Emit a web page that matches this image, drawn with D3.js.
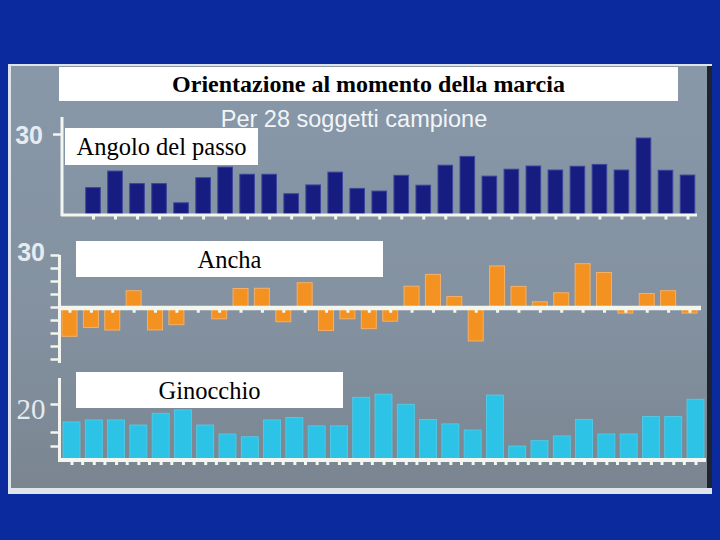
<!DOCTYPE html>
<html>
<head>
<meta charset="utf-8">
<script src="https://cdn.jsdelivr.net/npm/d3@7/dist/d3.min.js"></script>
<style>
  html, body { margin: 0; padding: 0; background: #0b2a9e; }
  svg { display: block; }
</style>
</head>
<body>
<svg id="chart" width="720" height="540"></svg>
<script>
// ---- Data ----
const titleText = "Orientazione al momento della marcia";
const subtitleText = "Per 28 soggetti campione";
const panelNames = ["Angolo del passo", "Ancha", "Ginocchio"];

// Panel 1: Angolo del passo (28 bars)
const passoValues = [9.9, 16.1, 11.4, 11.4, 4.2, 13.6, 17.6, 14.9, 14.9, 7.6, 10.9, 15.7, 9.6, 8.6,
                     14.5, 10.8, 18.3, 21.6, 14.2, 16.8, 18.0, 16.5, 17.9, 18.6, 16.5, 28.5, 16.4, 14.6];
// Panel 2: Ancha (30 slots, positive and negative)
const anchaValues = [-16.9, -11.8, -13.3, 9.4, -13.2, -10.2, 0, -6.8, 10.7, 10.8, -8.5, 14.0, -13.5, -6.8, -12.5,
                     -8.2, 12.0, 18.8, 6.0, -19.6, 23.7, 11.9, 3.0, 8.2, 25.0, 19.9, -3.5, 7.8, 9.4, -3.5];
// Panel 3: Ginocchio (29 bars)
const ginocchioValues = [13.6, 14.3, 14.3, 12.5, 16.7, 17.9, 12.5, 9.3, 8.3, 14.3, 15.2, 12.2, 12.2, 22.4, 23.5,
                         19.9, 14.5, 12.9, 10.7, 23.2, 5.0, 6.9, 8.6, 14.5, 9.3, 9.3, 15.5, 15.5, 21.7];

// Tick values / labels
const passoTicks = [30];
const passoTickLabels = ["30"];
const anchaTicks = [30, 22.5, 15, 7.5, 0, -7.5, -15, -22.5, -30];
const anchaTickLabels = ["30", "", "", "", "", "", "", "", ""];
const ginocchioTicks = [20, 10, 5];
const ginocchioTickLabels = ["20", "", ""];

// ---- Drawing ----
const svg = d3.select("#chart");
const axisColor = "#f3f6ee";
const labelColor = "#e4ebf1";

const defs = svg.append("defs");
const grad = defs.append("linearGradient").attr("id", "photo").attr("x1", 0).attr("y1", 0).attr("x2", 0).attr("y2", 1);
grad.append("stop").attr("offset", "0%").attr("stop-color", "#8898a9");
grad.append("stop").attr("offset", "60%").attr("stop-color", "#8391a0");
grad.append("stop").attr("offset", "100%").attr("stop-color", "#7a8590");

svg.append("rect").attr("x", 0).attr("y", 0).attr("width", 720).attr("height", 540).attr("fill", "#0b2a9e");
svg.append("rect").attr("x", 8).attr("y", 64).attr("width", 704).attr("height", 430).attr("fill", "#dfe4ea");
svg.append("rect").attr("x", 11).attr("y", 66).attr("width", 696).attr("height", 422).attr("fill", "url(#photo)");
svg.append("rect").attr("x", 707).attr("y", 66).attr("width", 5).attr("height", 422).attr("fill", "#1e2330");

function drawYAxis(y, ticks, labels, x, top, bottom, opts) {
  const g = svg.append("g").attr("transform", `translate(${x},0)`);
  const ax = d3.axisLeft(y).tickValues(ticks).tickSize(9).tickPadding(opts.pad)
    .tickFormat((d, i) => labels[i]);
  g.call(ax);
  g.select(".domain").remove();
  g.selectAll(".tick line").attr("stroke", axisColor).attr("stroke-width", 2.5);
  g.selectAll(".tick text")
    .attr("fill", labelColor)
    .attr("font-family", opts.family)
    .attr("font-weight", opts.weight)
    .attr("font-size", opts.size)
    .attr("dy", opts.dy);
  g.append("line").attr("x1", 0).attr("x2", 0).attr("y1", top).attr("y2", bottom)
    .attr("stroke", axisColor).attr("stroke-width", 3);
}

function drawXAxis(x, yPos, x0, x1, thick, tickLen, halfTicks) {
  const g = svg.append("g").attr("transform", `translate(0,${yPos})`);
  const ax = d3.axisBottom(x).tickSize(tickLen + thick / 2).tickFormat("");
  g.call(ax);
  g.select(".domain").remove();
  g.selectAll(".tick line").attr("stroke", axisColor).attr("stroke-width", 3);
  if (halfTicks) {
    const dom = x.domain();
    const mids = dom.slice(1).map((d, i) => (x(dom[i]) + x(d)) / 2);
    g.selectAll("line.half").data(mids).join("line").attr("class", "half")
      .attr("x1", d => d).attr("x2", d => d).attr("y1", 0).attr("y2", tickLen + thick / 2)
      .attr("stroke", axisColor).attr("stroke-width", 3);
  }
  g.append("line").attr("x1", x0).attr("x2", x1).attr("y1", 0).attr("y2", 0)
    .attr("stroke", axisColor).attr("stroke-width", thick);
}

function labelBox(x, y, w, h, text, size, bold) {
  svg.append("rect").attr("x", x).attr("y", y).attr("width", w).attr("height", h).attr("fill", "#ffffff");
  svg.append("text").attr("x", x + w / 2).attr("y", y + h / 2).attr("dy", "0.35em")
    .attr("text-anchor", "middle")
    .attr("font-family", "'Liberation Serif', 'Times New Roman', serif")
    .attr("font-weight", bold ? "bold" : "normal")
    .attr("font-size", size).attr("fill", "#000")
    .text(text);
}

const sansBold = { family: "Arial, 'Liberation Sans', sans-serif", weight: "bold", size: 25 };

// ---------- Panel 1 ----------
const x1 = d3.scalePoint().domain(d3.range(passoValues.length)).range([93, 687.5]);
const y1 = d3.scaleLinear().domain([0, 30]).range([214, 134]);
svg.append("g").selectAll("rect").data(passoValues).join("rect")
  .attr("x", (d, i) => x1(i) - 7.3)
  .attr("width", 14.6)
  .attr("y", d => y1(d))
  .attr("height", d => y1(0) - y1(d))
  .attr("fill", "#171c80")
  .attr("stroke", "#3a469a").attr("stroke-width", 1);
drawYAxis(y1, passoTicks, passoTickLabels, 62, 117, 216, { ...sansBold, pad: 10, dy: "0.36em" });
drawXAxis(x1, 215, 61, 697, 3, 3, false);

// ---------- Panel 2 ----------
const x2 = d3.scalePoint().domain(d3.range(anchaValues.length)).range([69.5, 689.5]);
const y2 = d3.scaleLinear().domain([-30, 30]).range([359, 255]);
svg.append("g").selectAll("rect").data(anchaValues).join("rect")
  .attr("x", (d, i) => x2(i) - 7.5)
  .attr("width", 15)
  .attr("y", d => y2(Math.max(0, d)))
  .attr("height", d => Math.abs(y2(d) - y2(0)))
  .attr("fill", "#f39220")
  .attr("stroke", "#f6b066").attr("stroke-width", 1);
drawYAxis(y2, anchaTicks, anchaTickLabels, 59.5, 255, 363, { ...sansBold, pad: 5.5, dy: "0.2em" });
drawXAxis(x2, 308, 58, 701, 4.5, 2.5, false);

// ---------- Panel 3 ----------
const x3 = d3.scalePoint().domain(d3.range(ginocchioValues.length)).range([71.5, 695.5]);
const y3 = d3.scaleLinear().domain([0, 20]).range([460, 404]);
svg.append("g").selectAll("rect").data(ginocchioValues).join("rect")
  .attr("x", (d, i) => x3(i) - 8.5)
  .attr("width", 17)
  .attr("y", d => y3(d))
  .attr("height", d => y3(0) - y3(d))
  .attr("fill", "#2cc3e6")
  .attr("stroke", "#4fd0ec").attr("stroke-width", 0.8);
drawYAxis(y3, ginocchioTicks, ginocchioTickLabels, 59.5, 378, 461,
  { family: "'Liberation Serif', 'Times New Roman', serif", weight: "normal", size: 29, pad: 5, dy: "0.5em" });
drawXAxis(x3, 460, 58, 706, 4, 3, true);

// ---------- Title, subtitle, panel labels ----------
labelBox(59, 67, 619, 34, titleText, 24, true);
svg.append("text").attr("x", 354).attr("y", 127)
  .attr("text-anchor", "middle")
  .attr("font-family", "Arial, 'Liberation Sans', sans-serif")
  .attr("font-size", 23.5).attr("fill", "#f2f5f8")
  .text(subtitleText);
labelBox(65, 128, 193, 37, panelNames[0], 24.5, false);
labelBox(76, 241, 307, 36, panelNames[1], 24.5, false);
labelBox(76, 372, 267, 36, panelNames[2], 24.5, false);
</script>
</body>
</html>
